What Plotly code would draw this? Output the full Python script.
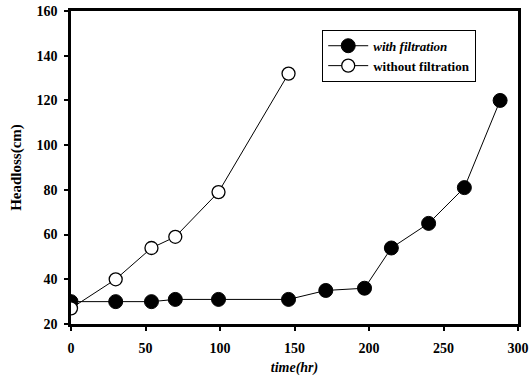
import plotly.graph_objects as go

# Headloss over time for a filter run with and without pre-filtration
time_with = [0, 30, 54, 70, 99, 146, 171, 197, 215, 240, 264, 288]
headloss_with = [30, 30, 30, 31, 31, 31, 35, 36, 54, 65, 81, 120]

time_without = [0, 30, 54, 70, 99, 146]
headloss_without = [27, 40, 54, 59, 79, 132]

x_ticks = [0, 50, 100, 150, 200, 250, 300]
y_ticks = [20, 40, 60, 80, 100, 120, 140, 160]

serif = "Liberation Serif, Times New Roman, serif"

fig = go.Figure()
fig.add_trace(go.Scatter(
    x=time_with, y=headloss_with, mode="lines+markers",
    name="<b><i>with filtration</i></b>",
    line=dict(color="black", width=1),
    marker=dict(symbol="circle", size=14, color="black",
                line=dict(color="black", width=1)),
))
fig.add_trace(go.Scatter(
    x=time_without, y=headloss_without, mode="lines+markers",
    name="<b>without filtration</b>",
    line=dict(color="black", width=1),
    marker=dict(symbol="circle", size=13, color="white",
                line=dict(color="black", width=1.3)),
))

axis_common = dict(
    showgrid=False, zeroline=False, showline=True, mirror=True,
    linecolor="black", linewidth=2.5, automargin=False,
    ticks="outside", ticklen=4, tickwidth=1.5, tickcolor="black",
    tickfont=dict(family=serif, size=14, color="black", weight="bold"),
)

fig.update_layout(
    width=532, height=384,
    margin=dict(l=71, r=14, t=11, b=60),
    paper_bgcolor="white", plot_bgcolor="white",
    font=dict(family=serif, color="black"),
    xaxis=dict(range=[0, 300], tickvals=x_ticks, ticklabelstandoff=5,
               title=dict(text="<b><i>time(hr)</i></b>", font=dict(size=14), standoff=8),
               **axis_common),
    yaxis=dict(range=[20, 160], tickvals=y_ticks, ticklabelstandoff=4,
               title=dict(text="<b>Headloss(cm)</b>", font=dict(size=15), standoff=12),
               **axis_common),
    legend=dict(x=0.562, y=0.94, xanchor="left", yanchor="top",
                bgcolor="white", bordercolor="black", borderwidth=1,
                font=dict(family=serif, size=13, color="black"),
                tracegroupgap=0, itemwidth=40),
    showlegend=True,
)

fig.write_html("out.html")
